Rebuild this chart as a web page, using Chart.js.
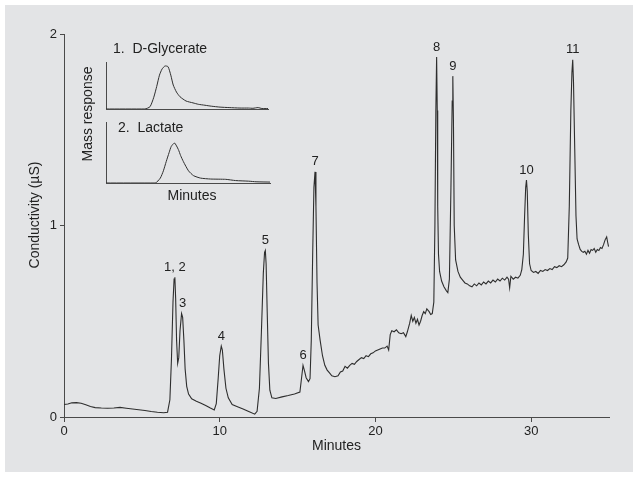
<!DOCTYPE html>
<html>
<head>
<meta charset="utf-8">
<script src="https://cdn.jsdelivr.net/npm/chart.js@4.4.1/dist/chart.umd.min.js"></script>
<style>
  html, body { margin: 0; padding: 0; background: #ffffff; }
  #wrap { position: relative; width: 639px; height: 479px; }
  canvas { position: absolute; }
</style>
</head>
<body>
<div id="wrap">
  <canvas id="main" width="639" height="479" style="left:0;top:0;"></canvas>
  <canvas id="inset1" width="180" height="80" style="left:100px;top:40px;"></canvas>
  <canvas id="inset2" width="180" height="80" style="left:100px;top:110px;"></canvas>
</div>
<script>
// ---------- DATA ----------
const minutes = [0,0.25,0.5,0.8,1.1,1.4,1.7,2.0,2.4,2.8,3.2,3.6,4.0,4.4,4.8,5.2,5.6,6.0,6.4,6.65,6.8,6.9,7.0,7.07,7.12,7.17,7.23,7.3,7.37,7.45,7.55,7.62,7.7,7.78,7.88,8.0,8.2,8.5,8.8,9.1,9.4,9.65,9.78,9.9,10.0,10.1,10.17,10.27,10.4,10.55,10.8,11.1,11.5,11.9,12.25,12.4,12.55,12.68,12.8,12.88,12.93,12.98,13.05,13.13,13.22,13.35,13.6,14.0,14.4,14.8,15.15,15.25,15.35,15.45,15.55,15.7,15.8,15.88,15.97,16.05,16.12,16.18,16.25,16.32,16.45,16.6,16.75,16.9,17.05,17.2,17.4,17.6,17.75,17.9,18.05,18.2,18.35,18.5,18.65,18.8,18.95,19.1,19.25,19.4,19.55,19.7,19.85,20.0,20.15,20.3,20.45,20.6,20.75,20.85,20.95,21.05,21.2,21.35,21.5,21.65,21.8,21.95,22.05,22.2,22.3,22.4,22.5,22.6,22.7,22.8,22.9,23.0,23.1,23.2,23.3,23.45,23.55,23.65,23.75,23.82,23.88,23.93,23.97,24.0,24.05,24.12,24.25,24.4,24.55,24.65,24.75,24.85,24.93,24.97,25.01,25.06,25.15,25.3,25.45,25.6,25.75,25.9,26.05,26.2,26.35,26.5,26.65,26.8,26.95,27.1,27.25,27.4,27.55,27.7,27.85,28.0,28.15,28.3,28.45,28.55,28.62,28.7,28.85,29.0,29.15,29.3,29.4,29.5,29.58,29.65,29.7,29.75,29.82,29.9,30.0,30.15,30.3,30.45,30.6,30.75,30.9,31.05,31.2,31.35,31.5,31.65,31.8,31.95,32.1,32.25,32.35,32.45,32.55,32.62,32.67,32.72,32.8,32.88,32.95,33.05,33.15,33.25,33.35,33.45,33.55,33.65,33.75,33.85,33.95,34.05,34.15,34.25,34.35,34.45,34.55,34.65,34.75,34.85,34.92,34.97];
const conductivity = [0.065,0.068,0.074,0.075,0.072,0.064,0.055,0.049,0.047,0.046,0.047,0.050,0.046,0.042,0.038,0.034,0.029,0.025,0.022,0.025,0.09,0.30,0.60,0.72,0.73,0.62,0.40,0.28,0.31,0.45,0.54,0.52,0.40,0.25,0.16,0.12,0.095,0.082,0.072,0.06,0.047,0.037,0.07,0.20,0.32,0.37,0.35,0.25,0.15,0.10,0.065,0.055,0.042,0.028,0.015,0.03,0.15,0.45,0.75,0.86,0.87,0.80,0.55,0.28,0.14,0.10,0.097,0.105,0.112,0.12,0.13,0.20,0.27,0.24,0.205,0.185,0.20,0.40,0.85,1.20,1.28,1.10,0.70,0.48,0.40,0.32,0.27,0.245,0.23,0.215,0.21,0.215,0.235,0.24,0.265,0.255,0.27,0.28,0.275,0.29,0.30,0.31,0.305,0.32,0.315,0.33,0.335,0.345,0.35,0.355,0.36,0.36,0.37,0.35,0.43,0.45,0.445,0.455,0.44,0.435,0.44,0.42,0.445,0.49,0.53,0.50,0.52,0.49,0.51,0.48,0.50,0.53,0.55,0.54,0.565,0.55,0.535,0.54,0.60,1.00,1.60,1.88,1.60,1.10,0.85,0.76,0.71,0.68,0.66,0.65,0.72,1.20,1.65,1.78,1.55,1.00,0.82,0.76,0.73,0.715,0.70,0.695,0.685,0.68,0.695,0.685,0.70,0.69,0.705,0.695,0.71,0.70,0.715,0.705,0.72,0.71,0.725,0.715,0.73,0.72,0.675,0.735,0.72,0.73,0.725,0.74,0.77,0.85,1.05,1.20,1.237,1.18,0.95,0.80,0.765,0.755,0.76,0.75,0.765,0.76,0.77,0.765,0.775,0.77,0.785,0.78,0.79,0.785,0.795,0.81,0.83,1.10,1.60,1.80,1.865,1.75,1.40,1.05,0.93,0.90,0.875,0.865,0.86,0.865,0.85,0.87,0.855,0.875,0.87,0.88,0.86,0.875,0.87,0.885,0.88,0.90,0.925,0.94,0.91,0.89];

const xTicks = [0, 10, 20, 30];
const yTicks = [0, 1, 2];

const peakNames = ["1, 2", "3", "4", "5", "6", "7", "8", "9", "10", "11"];
const peakMinutes = [7.12, 7.62, 10.1, 12.93, 15.35, 16.12, 23.93, 24.97, 29.7, 32.67];
const peakHeights = [0.73, 0.54, 0.37, 0.87, 0.27, 1.28, 1.88, 1.78, 1.237, 1.865];

// Inset (arbitrary time units 0-100, relative response 0-1)
const glycerateTime = [0,24,27.2,29.5,31.3,33,34.6,36.4,38.3,40,41.5,43.5,45.7,49.4,53.7,57,61.1,65,70.4,76,82.7,88,90.7,93.8,96.3,100];
const glycerateResp = [0,0,0.05,0.25,0.48,0.72,0.85,0.915,0.90,0.72,0.51,0.36,0.26,0.17,0.13,0.10,0.08,0.06,0.04,0.03,0.02,0.02,0.015,0.03,0.01,0.01];
const lactateTime = [0,30,33.1,35,36.7,38.5,39.8,41.8,44.1,45.5,47.2,50.3,53.4,57.7,63.8,73,79,87,91.5,100];
const lactateResp = [0,0,0.08,0.20,0.35,0.50,0.60,0.655,0.55,0.45,0.35,0.20,0.12,0.08,0.065,0.06,0.04,0.03,0.02,0.015];

// ---------- STYLE ----------
const FONT = "'Liberation Sans', Arial, Helvetica, sans-serif";
const INK = '#2e2e2e';
const AXIS = '#4a4a4a';
const PANEL = 'rgb(227,228,230)';

function pts(xs, ys) { return xs.map((x, i) => ({ x: x, y: ys[i] })); }

const decor = {
  id: 'decor',
  beforeDraw(chart) {
    const c = chart.ctx;
    c.save();
    c.fillStyle = '#ffffff';
    c.fillRect(0, 0, chart.width, chart.height);
    c.fillStyle = PANEL;
    c.fillRect(5, 5, 628, 467);
    c.restore();
  },
  afterDatasetsDraw(chart) {
    const c = chart.ctx;
    const xs = chart.scales.x, ys = chart.scales.y;
    c.save();
    c.fillStyle = '#222';
    c.font = '13px ' + FONT;
    c.textAlign = 'center';
    c.textBaseline = 'middle';
    peakNames.forEach((n, i) => {
      c.fillText(n, xs.getPixelForValue(peakMinutes[i]), ys.getPixelForValue(peakHeights[i]) - 10);
    });
    // axis titles
    c.font = '14px ' + FONT;
    c.fillText('Minutes', (chart.chartArea.left + chart.chartArea.right) / 2, 446);
    c.save();
    c.translate(35, 215);
    c.rotate(-Math.PI / 2);
    c.fillText('Conductivity (\u00b5S)', 0, 0);
    c.restore();
    // inset texts
    c.textAlign = 'left';
    c.fillText('1.  D-Glycerate', 113, 49);
    c.fillText('2.  Lactate', 118, 128);
    c.textAlign = 'center';
    c.fillText('Minutes', 192, 196);
    c.save();
    c.translate(88, 114);
    c.rotate(-Math.PI / 2);
    c.fillText('Mass response', 0, 0);
    c.restore();
    c.restore();
  }
};

new Chart(document.getElementById('main'), {
  type: 'line',
  data: {
    datasets: [{
      data: pts(minutes, conductivity),
      borderColor: INK,
      borderWidth: 1.1,
      pointRadius: 0,
      tension: 0,
      fill: false
    }]
  },
  options: {
    responsive: false,
    animation: false,
    events: [],
    layout: { padding: { left: 0, top: 34, right: 30, bottom: 0 } },
    plugins: { legend: { display: false }, tooltip: { enabled: false }, title: { display: false } },
    scales: {
      x: {
        type: 'linear', min: 0, max: 35,
        afterBuildTicks(s) { s.ticks = xTicks.map(v => ({ value: v })); },
        afterFit(s) { s.height = 62; },
        grid: { display: true, drawOnChartArea: false, drawTicks: true, tickLength: 5, color: AXIS, lineWidth: 1 },
        border: { display: true, color: AXIS, width: 1 },
        ticks: { color: '#222', font: { family: FONT, size: 13 }, padding: 2, maxRotation: 0 }
      },
      y: {
        type: 'linear', min: 0, max: 2,
        afterBuildTicks(s) { s.ticks = yTicks.map(v => ({ value: v })); },
        afterFit(s) { s.width = 64; },
        grid: { display: true, drawOnChartArea: false, drawTicks: true, tickLength: 4, color: AXIS, lineWidth: 1 },
        border: { display: true, color: AXIS, width: 1 },
        ticks: { color: '#222', font: { family: FONT, size: 13 }, padding: 3 }
      }
    }
  },
  plugins: [decor]
});

function insetChart(id, xs, ys, pad) {
  return new Chart(document.getElementById(id), {
    type: 'line',
    data: { datasets: [{ data: pts(xs, ys), borderColor: INK, borderWidth: 1, pointRadius: 0, tension: 0.2, fill: false }] },
    options: {
      responsive: false, animation: false, events: [],
      layout: { padding: pad },
      plugins: { legend: { display: false }, tooltip: { enabled: false } },
      scales: {
        x: { type: 'linear', min: 0, max: 100, afterFit(s) { s.height = 0; },
             grid: { display: false, drawTicks: false }, ticks: { display: false },
             border: { display: true, color: AXIS, width: 1 } },
        y: { type: 'linear', min: 0, max: 1, afterFit(s) { s.width = 0; },
             grid: { display: false, drawTicks: false }, ticks: { display: false },
             border: { display: true, color: AXIS, width: 1 } }
      }
    }
  });
}
insetChart('inset1', glycerateTime, glycerateResp, { left: 6, top: 22, right: 12, bottom: 11 });
insetChart('inset2', lactateTime, lactateResp, { left: 6, top: 12, right: 10, bottom: 7 });
</script>
</body>
</html>
